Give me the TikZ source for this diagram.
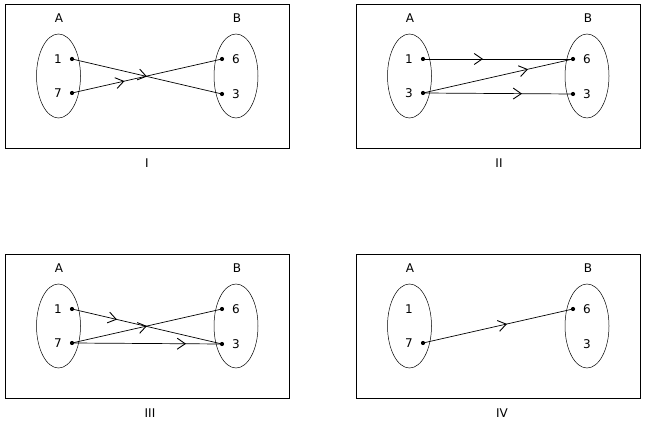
\documentclass[tikz,border=0pt]{standalone}
\usepackage{fontspec}
\setmainfont{DejaVu Sans}
\usetikzlibrary{shapes.geometric,arrows.meta,decorations.markings}
\tikzset{
  frame/.style={draw, line width=0.8pt},
  setell/.style={draw, ellipse, line width=0.5pt, minimum width=44pt, minimum height=84pt, inner sep=0pt},
  lbl/.style={font=\fontsize{12}{14}\selectfont, inner sep=0pt},
  pt/.style={circle, fill=black, minimum size=4.2pt, inner sep=0pt},
  conn/.style={line width=0.7pt},
  midarr/.style={postaction={decorate}, decoration={markings,
     mark=at position #1 with {\arrow{Straight Barb[length=8pt,width=11pt,line width=0.9pt]}}}}
}
\begin{document}
\begin{tikzpicture}[x=1pt,y=-1pt]
\useasboundingbox (0,0) rectangle (645,427);
% ---------- Panel I ----------
\begin{scope}
  \draw[frame] (5,4) rectangle (289,148);
  \node[lbl] (Ia) at (59,18) {A};
  \node[lbl] (Ib) at (237,18) {B};
  \node[setell] (IeA) at (58.5,76) {};
  \node[setell] (IeB) at (236,76) {};
  \node[lbl] (In1) at (58,59) {1};
  \node[lbl] (In7) at (58,93) {7};
  \node[lbl] (In6) at (236,59) {6};
  \node[lbl] (In3) at (236,94) {3};
  \node[pt] (Ip1) at (72,59) {};
  \node[pt] (Ip7) at (72,93) {};
  \node[pt] (Ip6) at (222,59) {};
  \node[pt] (Ip3) at (222,94) {};
  \draw[conn, midarr=0.5] (Ip1.center) -- (Ip3.center);
  \draw[conn, midarr=0.35] (Ip7.center) -- (Ip6.center);
  \node[lbl] (Ititle) at (147,163) {I};
\end{scope}
% ---------- Panel II ----------
\begin{scope}[xshift=351pt]
  \draw[frame] (5,4) rectangle (289,148);
  \node[lbl] (IIa) at (59,18) {A};
  \node[lbl] (IIb) at (237,18) {B};
  \node[setell] (IIeA) at (58.5,76) {};
  \node[setell] (IIeB) at (236,76) {};
  \node[lbl] (IIn1) at (58,59) {1};
  \node[lbl] (IIn3l) at (58,93) {3};
  \node[lbl] (IIn6) at (236,59) {6};
  \node[lbl] (IIn3) at (236,94) {3};
  \node[pt] (IIp1) at (72,59) {};
  \node[pt] (IIp3l) at (72,93) {};
  \node[pt] (IIp6) at (222,59) {};
  \node[pt] (IIp3) at (222,94) {};
  \draw[conn, midarr=0.4] (IIp1.center) -- (IIp6.center);
  \draw[conn, midarr=0.7] (IIp3l.center) -- (IIp6.center);
  \draw[conn, midarr=0.66] (IIp3l.center) -- (IIp3.center);
  \node[lbl] (IItitle) at (148,163) {II};
\end{scope}
% ---------- Panel III ----------
\begin{scope}[yshift=-250pt]
  \draw[frame] (5,4) rectangle (289,148);
  \node[lbl] (IIIa) at (59,18) {A};
  \node[lbl] (IIIb) at (237,18) {B};
  \node[setell] (IIIeA) at (58.5,76) {};
  \node[setell] (IIIeB) at (236,76) {};
  \node[lbl] (IIIn1) at (58,59) {1};
  \node[lbl] (IIIn7) at (58,93) {7};
  \node[lbl] (IIIn6) at (236,59) {6};
  \node[lbl] (IIIn3) at (236,94) {3};
  \node[pt] (IIIp1) at (72,59) {};
  \node[pt] (IIIp7) at (72,93) {};
  \node[pt] (IIIp6) at (222,59) {};
  \node[pt] (IIIp3) at (222,94) {};
  \draw[conn, midarr=0.3] (IIIp1.center) -- (IIIp3.center);
  \draw[conn, midarr=0.5] (IIIp7.center) -- (IIIp6.center);
  \draw[conn, midarr=0.76] (IIIp7.center) -- (IIIp3.center);
  \node[lbl] (IIItitle) at (150,163) {III};
\end{scope}
% ---------- Panel IV ----------
\begin{scope}[xshift=351pt, yshift=-250pt]
  \draw[frame] (5,4) rectangle (289,148);
  \node[lbl] (IVa) at (59,18) {A};
  \node[lbl] (IVb) at (237,18) {B};
  \node[setell] (IVeA) at (58.5,76) {};
  \node[setell] (IVeB) at (236,76) {};
  \node[lbl] (IVn1) at (58,59) {1};
  \node[lbl] (IVn7) at (58,93) {7};
  \node[lbl] (IVn6) at (236,59) {6};
  \node[lbl] (IVn3) at (236,94) {3};
  \node[pt] (IVp7) at (72,93) {};
  \node[pt] (IVp6) at (222,59) {};
  \draw[conn, midarr=0.56] (IVp7.center) -- (IVp6.center);
  \node[lbl] (IVtitle) at (151,163) {IV};
\end{scope}
\end{tikzpicture}
\end{document}
